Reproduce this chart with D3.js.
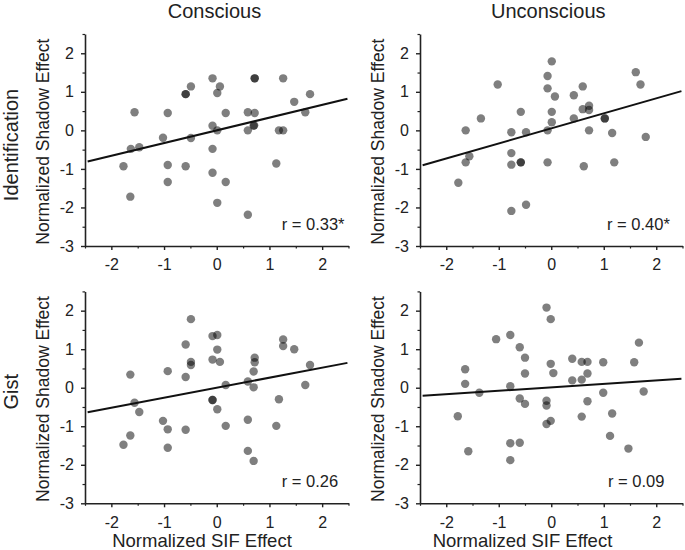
<!DOCTYPE html>
<html>
<head>
<meta charset="utf-8">
<script src="https://cdn.jsdelivr.net/npm/d3@7"></script>
<style>
  html, body { margin: 0; padding: 0; background: #fff; }
  svg { display: block; font-family: "Liberation Sans", Arial, Helvetica, sans-serif; }
</style>
</head>
<body>
<svg id="chart" width="685" height="550"></svg>
<script>
// ---------- data ----------
const columnTitles = ["Conscious", "Unconscious"];
const rowTitles = ["Identification", "Gist"];
const xTickValues = [-2, -1, 0, 1, 2];
const yTickValues = [-3, -2, -1, 0, 1, 2];
const xMinorTicks = [-2.5, -1.5, -0.5, 0.5, 1.5, 2.5];
const yMinorTicks = [-2.5, -1.5, -0.5, 0.5, 1.5, 2.5];
const xTitle = "Normalized SIF Effect";
const yTitle = "Normalized Shadow Effect";

// [SIF effect, shadow effect]
const identConscious = [
  [-1.77,-0.93],[-1.64,-1.72],[-1.63,-0.48],[-1.56,0.47],[-1.47,-0.44],[-1.02,-0.19],
  [-0.93,0.45],[-0.93,-0.90],[-0.93,-1.34],[-0.59,0.94],[-0.59,0.94],[-0.59,-0.93],
  [-0.49,1.14],[-0.49,-0.20],[-0.08,1.35],[-0.08,0.12],[-0.08,-0.48],[-0.08,-1.10],
  [0.01,0.97],[0.06,1.14],[0.01,0.00],[0.01,-1.88],[0.17,0.45],[0.17,-1.34],
  [0.59,0.47],[0.59,0.00],[0.59,-2.19],[0.72,1.35],[0.72,1.35],[0.72,0.45],
  [0.70,0.12],[0.71,0.13],[1.13,-0.86],[1.18,0.00],[1.26,0.00],[1.26,1.35],
  [1.47,0.74],[1.68,0.47],[1.77,0.94]
];
const identUnconscious = [
  [-1.77,-1.36],[-1.63,0.00],[-1.63,-0.83],[-1.56,-0.67],[-1.34,0.31],[-1.02,1.19],
  [-0.76,-0.05],[-0.76,-0.59],[-0.76,-0.89],[-0.76,-2.09],[-0.58,0.48],[-0.58,-0.83],
  [-0.58,-0.83],[-0.48,-0.05],[-0.48,-1.93],[-0.07,1.41],[-0.07,1.09],[-0.07,0.00],
  [-0.07,-0.83],[0.01,1.79],[0.01,0.48],[0.01,0.21],[0.07,0.88],[0.43,0.91],
  [0.43,0.31],[0.60,1.14],[0.60,0.55],[0.62,-0.93],[0.72,0.64],[0.72,0.53],
  [0.72,0.00],[1.02,0.31],[1.02,0.31],[1.16,-0.07],[1.20,-0.83],[1.61,1.51],
  [1.70,1.19],[1.80,-0.17]
];
const gistConscious = [
  [-1.77,-1.48],[-1.64,0.34],[-1.64,-1.24],[-1.56,-0.39],[-1.47,-0.63],[-1.02,-0.86],
  [-0.93,0.43],[-0.93,-1.08],[-0.93,-1.56],[-0.59,1.12],[-0.59,0.28],[-0.59,-1.09],
  [-0.49,1.78],[-0.49,0.67],[-0.49,0.59],[-0.08,1.34],[0.01,1.37],[-0.08,0.73],
  [-0.08,-0.32],[-0.08,-0.32],[0.01,0.99],[0.06,0.67],[0.01,-0.56],[0.17,0.07],
  [0.17,-0.99],[0.59,0.16],[0.59,-0.83],[0.59,-1.64],[0.72,0.78],[0.72,0.66],
  [0.70,0.42],[0.70,0.01],[0.70,-1.90],[1.13,-0.99],[1.18,-0.30],[1.26,1.25],
  [1.26,1.08],[1.47,1.00],[1.68,0.07],[1.77,0.59]
];
const gistUnconscious = [
  [-1.78,-0.74],[-1.64,0.48],[-1.64,0.10],[-1.58,-1.65],[-1.37,-0.13],[-1.05,1.26],
  [-0.78,1.37],[-0.78,0.04],[-0.78,-1.44],[-0.78,-1.88],[-0.60,1.05],[-0.60,-0.28],
  [-0.60,-1.43],[-0.50,0.78],[-0.50,0.37],[-0.50,-0.42],[-0.09,2.08],[-0.09,-0.34],
  [-0.09,-0.46],[-0.09,-0.94],[-0.01,1.78],[-0.01,0.62],[-0.01,-0.86],[0.04,0.38],
  [0.40,0.75],[0.40,0.19],[0.58,0.67],[0.58,0.21],[0.58,-0.75],[0.69,0.67],
  [0.69,0.37],[0.69,-0.35],[0.99,0.66],[0.99,-0.13],[1.16,-0.67],[1.12,-1.25],
  [1.47,-1.58],[1.58,0.66],[1.67,1.17],[1.76,-0.10]
];
const fitSlopes = [0.33, 0.39, 0.26, 0.09];
const fitIntercepts = [0.00, 0.05, 0.00, 0.01];
const fitXExtent = [-2.45, 2.48];
const rLabels = ["r = 0.33*", "r = 0.40*", "r = 0.26", "r = 0.09"];

// ---------- layout ----------
const panelData = [identConscious, identUnconscious, gistConscious, gistUnconscious];
const colX = [[85, 348.5], [420, 682.5]];
const rowY = [[34, 246], [291.4, 503.3]];
const xDomain = [-2.5, 2.5];
const yDomain = [-3, 2.5];
const ink = "#222";

const svg = d3.select("#chart");

// column titles
const colTitleX = [214.5, 548.3];
columnTitles.forEach((t, i) => {
  svg.append("text").attr("x", colTitleX[i]).attr("y", 18)
    .attr("text-anchor", "middle").attr("font-size", 20).attr("fill", ink).text(t);
});
// row titles
const rowTitleY = [145, 391.7];
rowTitles.forEach((t, i) => {
  svg.append("text").attr("transform", `translate(17.5,${rowTitleY[i]}) rotate(-90)`)
    .attr("text-anchor", "middle").attr("font-size", 20).attr("fill", ink).text(t);
});

const yTitleX = [48.5, 384];
const xTitleX = [202, 522.5];
const rLabelPos = [[281.7, 230], [607, 230], [281.7, 487], [608, 487]];

panelData.forEach((pts, p) => {
  const r = Math.floor(p / 2), c = p % 2;
  const x = d3.scaleLinear().domain(xDomain).range(colX[c]);
  const y = d3.scaleLinear().domain(yDomain).range([rowY[r][1], rowY[r][0]]);
  const g = svg.append("g");

  // minor ticks
  g.append("g").attr("transform", `translate(0,${y(-3)})`)
    .call(d3.axisBottom(x).tickValues(xMinorTicks).tickSize(2.5).tickSizeOuter(0).tickFormat(""))
    .call(s => s.select(".domain").remove())
    .call(s => s.selectAll("line").attr("stroke", ink).attr("stroke-width", 1.2));
  g.append("g").attr("transform", `translate(${x(-2.5)},0)`)
    .call(d3.axisLeft(y).tickValues(yMinorTicks).tickSize(2.5).tickSizeOuter(0).tickFormat(""))
    .call(s => s.select(".domain").remove())
    .call(s => s.selectAll("line").attr("stroke", ink).attr("stroke-width", 1.2));

  // major axes
  const xa = g.append("g").attr("transform", `translate(0,${y(-3)})`)
    .call(d3.axisBottom(x).tickValues(xTickValues).tickSize(4).tickSizeOuter(0).tickPadding(9)
      .tickFormat(d => d < 0 ? "-" + Math.abs(d) : String(d)));
  const ya = g.append("g").attr("transform", `translate(${x(-2.5)},0)`)
    .call(d3.axisLeft(y).tickValues(yTickValues).tickSize(4).tickSizeOuter(0).tickPadding(7)
      .tickFormat(d => d < 0 ? "-" + Math.abs(d) : String(d)));
  [xa, ya].forEach(a => {
    a.select(".domain").attr("stroke", ink).attr("stroke-width", 1.6);
    a.selectAll(".tick line").attr("stroke", ink).attr("stroke-width", 1.4);
    a.selectAll(".tick text").attr("fill", ink).attr("font-size", 16)
      .attr("font-family", "'Liberation Sans', Arial, sans-serif");
  });

  // points
  g.append("g").selectAll("circle").data(pts).join("circle")
    .attr("cx", d => x(d[0])).attr("cy", d => y(d[1])).attr("r", 4.2)
    .attr("fill", "#000").attr("fill-opacity", 0.5);

  // regression line
  const line = d3.line().x(d => x(d)).y(d => y(fitSlopes[p] * d + fitIntercepts[p]));
  g.append("path").datum(fitXExtent).attr("d", line)
    .attr("stroke", "#111").attr("stroke-width", 2).attr("fill", "none");

  // r label
  g.append("text").attr("x", rLabelPos[p][0]).attr("y", rLabelPos[p][1])
    .attr("font-size", 16.5).attr("fill", ink).text(rLabels[p]);

  // y title
  const yMid = (rowY[r][0] + rowY[r][1]) / 2 + 1.7;
  g.append("text").attr("transform", `translate(${yTitleX[c]},${yMid}) rotate(-90)`)
    .attr("text-anchor", "middle").attr("font-size", 17.5).attr("fill", ink).text(yTitle);

  // x title (bottom row only)
  if (r === 1) {
    g.append("text").attr("x", xTitleX[c]).attr("y", 547)
      .attr("text-anchor", "middle").attr("font-size", 18.5).attr("fill", ink).text(xTitle);
  }
});
</script>
</body>
</html>
